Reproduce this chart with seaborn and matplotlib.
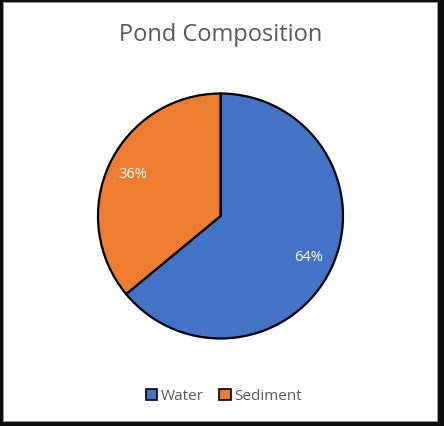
import matplotlib.pyplot as plt
import seaborn as sns
from matplotlib.patches import Rectangle

sns.set_style("white")
plt.rcParams["font.family"] = ["Open Sans", "DejaVu Sans"]

# data
categories = ["Water", "Sediment"]
shares = [64, 36]
colors = ["#4472C4", "#ED7D31"]

W, H = 444, 426
fig = plt.figure(figsize=(W / 100, H / 100), dpi=100, facecolor="#0d0d0d")

# white chart area inside the dark frame
fig.patches.append(Rectangle((3 / W, 5 / H), (437 - 3) / W, (424 - 5) / H,
                             transform=fig.transFigure, facecolor="white",
                             edgecolor="#9a9a9a", linewidth=0.6, zorder=-1))

# pie: centre (220, 216), radius ~122 px
r = 122.5
ax = fig.add_axes([(220.5 - r) / W, (H - 216 - r) / H, 2 * r / W, 2 * r / H])
ax.set_zorder(2)
wedges, texts, autotexts = ax.pie(
    shares, colors=colors, startangle=90, counterclock=False,
    autopct="%1.0f%%", pctdistance=0.79,
    wedgeprops=dict(edgecolor="black", linewidth=1.6),
    textprops=dict(color="white", fontsize=10.5))
ax.set_xlim(-1, 1)
ax.set_ylim(-1, 1)
ax.set_aspect("equal")
ax.axis("off")

fig.text(221 / W, 1 - 35 / H, "Pond Composition", ha="center", va="center",
         fontsize=17, color="#595959")

leg = fig.legend(wedges, categories, loc="center", bbox_to_anchor=(224 / W, 1 - 396 / H),
                 ncol=2, frameon=False, fontsize=11, handlelength=0.75,
                 handleheight=0.75, handletextpad=0.25, columnspacing=1.0)
for t in leg.get_texts():
    t.set_color("#595959")
for h in leg.legend_handles:
    h.set_edgecolor("black")
    h.set_linewidth(1.2)

fig.savefig("out.png", dpi=100, facecolor=fig.get_facecolor())
